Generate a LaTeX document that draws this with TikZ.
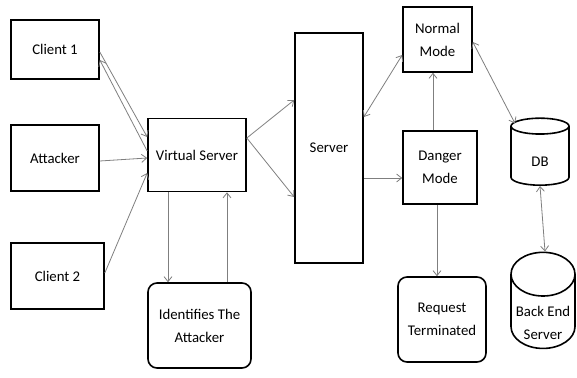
\documentclass[tikz,border=0pt]{standalone}
\usepackage{fontspec}
\setmainfont{Carlito}
\usepackage{tikz}
\usetikzlibrary{arrows.meta,shapes.geometric}
\definecolor{edge}{HTML}{7F7F7F}
\newcommand{\lowr}[2]{\raisebox{-#1}[\height][\depth]{#2}}
\tikzset{
  box/.style={draw=black, line width=1.6pt, align=center, inner sep=2pt,
    font=\fontsize{14.8}{23}\selectfont},
  rbox/.style={box, rounded corners=9pt},
  store/.style={box, cylinder, shape border rotate=90, aspect=0.75},
  link/.style={draw=edge, line width=0.8pt, -{Straight Barb[length=5pt,width=8pt]}},
  blink/.style={link, {Straight Barb[length=5pt,width=8pt]}-{Straight Barb[length=5pt,width=8pt]}},
}
\begin{document}
\begin{tikzpicture}[x=1pt,y=-1pt]
  \useasboundingbox (0,0) rectangle (577,377);

  % clients and attacker
  \node[box,minimum width=88pt,minimum height=59pt] (c1) at (55,49.5) {Client 1};
  \node[box,minimum width=88pt,minimum height=66pt] (att) at (55,158) {Attacker};
  \node[box,minimum width=93pt,minimum height=66pt] (c2) at (57.5,276) {Client 2};

  \node[box,minimum width=98pt,minimum height=73pt] (vs) at (197,155) {Virtual Server};
  \node[rbox,minimum width=103pt,minimum height=85pt] (id) at (199.5,325.5) {Identifies The\\Attacker};

  \node[box,minimum width=68pt,minimum height=230pt] (srv) at (329,148) {Server};

  % modes
  \node[box,minimum width=69pt,minimum height=65pt] (nm) at (437.5,39.5) {Normal\\Mode};
  \node[box,minimum width=74pt,minimum height=73pt] (dm) at (440,167.5) {Danger\\Mode};
  \node[rbox,minimum width=88pt,minimum height=85pt] (rt) at (442,319.5) {Request\\Terminated};

  % storage
  \node[store,minimum width=58pt,minimum height=67pt] (db) at (540,157.5) {\lowr{4pt}{DB}};
  \node[store,minimum width=64pt,minimum height=93pt] (bes) at (543,315.5) {\lowr{7pt}{Back End}\\\lowr{7pt}{Server}};

  \draw[link] ([yshift=-2.5pt]c1.east) -- ([yshift=18pt]vs.west);
  \draw[link] ([yshift=4pt]vs.west) -- ([yshift=-10.5pt]c1.east);
  \draw[link] ([yshift=-3pt]att.east) -- ([yshift=-3pt]vs.west);
  \draw[link] ([yshift=3pt]c2.east) -- ([yshift=-18pt]vs.west);

  \draw[link] ([yshift=17pt]vs.east) -- ([yshift=48pt]srv.west);
  \draw[link] ([yshift=17pt]vs.east) -- ([yshift=-49pt]srv.west);
  \draw[link] ([xshift=-29pt]vs.south) -- ([xshift=-31.5pt]id.north);
  \draw[link] ([xshift=27.5pt]id.north) -- ([xshift=30pt]vs.south);

  \draw[blink] ([yshift=31pt]srv.east) -- ([yshift=-15.5pt]nm.west);
  \draw[link] ([yshift=-10.5pt]dm.west -| srv.east) -- ([yshift=-10.5pt]dm.west);
  \draw[link] ([xshift=-4.5pt]nm.south |- dm.north) -- ([xshift=-4.5pt]nm.south);
  \draw[link] ([xshift=-3pt]dm.south) -- ([xshift=-5pt]rt.north);

  \draw[blink] ([yshift=-2.5pt]nm.east) -- ([xshift=-25pt,yshift=-6pt]db.north);
  \draw[blink] (db.south) -- ([xshift=2pt]bes.north);
\end{tikzpicture}
\end{document}
